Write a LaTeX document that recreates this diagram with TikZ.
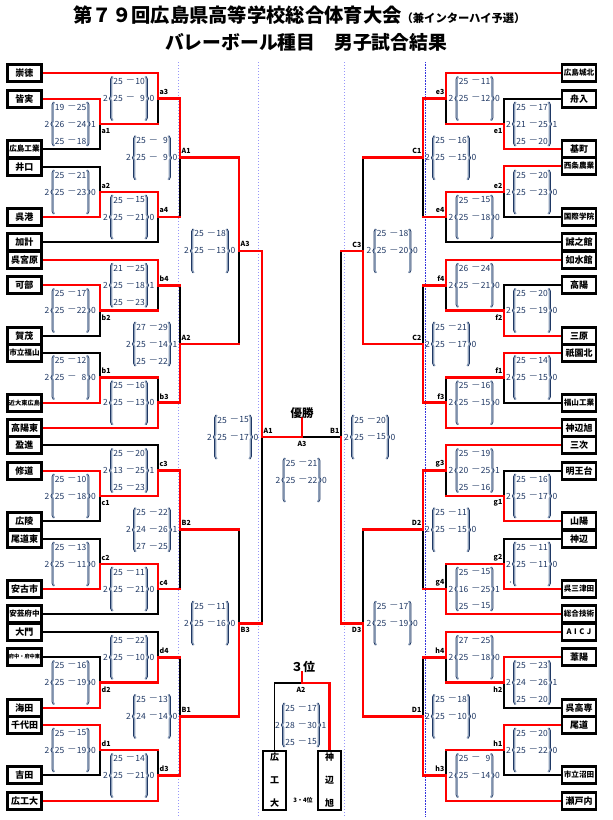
\documentclass[tikz,border=0pt]{standalone}
\usepackage{fontspec}
\newfontfamily\jp{Noto Sans CJK JP}
\usetikzlibrary{decorations.pathreplacing}
\pgfdeclarelayer{bg}
\pgfsetlayers{bg,main}
\definecolor{navy}{RGB}{31,56,100}
\definecolor{bshade}{RGB}{140,158,184}
\definecolor{lav}{RGB}{150,150,250}
\definecolor{dblue}{RGB}{50,50,220}

\newcommand\mtB[5]{\if#4t\draw[bk] (#1 |- #3) -- (#1);\else\draw[bk] (#1 |- #2) -- (#1);\fi}
\newcommand\mtR[5]{\if#4t\draw[rd] (#1 |- #2) -- (#1);\else\draw[rd] (#1 |- #3) -- (#1);\fi\draw[rd] (#1) -- (#1 -| #5);}
\newcommand\tline[3]{\draw[#3] (#1) -- (#1 -| #2);}
\newcommand\allmatches[1]{%
\csname mt#1\endcsname{a1}{tl2}{tl3}{t}{a3}%
\csname mt#1\endcsname{a2}{tl4}{tl5}{b}{a4}%
\csname mt#1\endcsname{a3}{tl1}{a1}{t}{A1}%
\csname mt#1\endcsname{a4}{a2}{tl6}{t}{A1}%
\csname mt#1\endcsname{A1}{a3}{a4}{t}{A3}%
\csname mt#1\endcsname{b2}{tl8}{tl9}{t}{b4}%
\csname mt#1\endcsname{b1}{tl10}{tl11}{b}{b3}%
\csname mt#1\endcsname{b4}{tl7}{b2}{t}{A2}%
\csname mt#1\endcsname{b3}{b1}{tl12}{b}{A2}%
\csname mt#1\endcsname{A2}{b4}{b3}{b}{A3}%
\csname mt#1\endcsname{c1}{tl14}{tl15}{t}{c3}%
\csname mt#1\endcsname{c2}{tl16}{tl17}{b}{c4}%
\csname mt#1\endcsname{c3}{tl13}{c1}{b}{B2}%
\csname mt#1\endcsname{c4}{c2}{tl18}{t}{B2}%
\csname mt#1\endcsname{B2}{c3}{c4}{t}{B3}%
\csname mt#1\endcsname{d2}{tl20}{tl21}{b}{d4}%
\csname mt#1\endcsname{d1}{tl22}{tl23}{t}{d3}%
\csname mt#1\endcsname{d4}{tl19}{d2}{b}{B1}%
\csname mt#1\endcsname{d3}{d1}{tl24}{b}{B1}%
\csname mt#1\endcsname{B1}{d4}{d3}{b}{B3}%
\csname mt#1\endcsname{A3}{A1}{A2}{t}{SL}%
\csname mt#1\endcsname{B3}{B2}{B1}{b}{SL}%
\csname mt#1\endcsname{e1}{tr2}{tr3}{b}{e3}%
\csname mt#1\endcsname{e2}{tr4}{tr5}{t}{e4}%
\csname mt#1\endcsname{e3}{tr1}{e1}{t}{C1}%
\csname mt#1\endcsname{e4}{e2}{tr6}{t}{C1}%
\csname mt#1\endcsname{C1}{e3}{e4}{t}{C3}%
\csname mt#1\endcsname{f2}{tr8}{tr9}{b}{f4}%
\csname mt#1\endcsname{f1}{tr10}{tr11}{t}{f3}%
\csname mt#1\endcsname{f4}{tr7}{f2}{t}{C2}%
\csname mt#1\endcsname{f3}{f1}{tr12}{b}{C2}%
\csname mt#1\endcsname{C2}{f4}{f3}{b}{C3}%
\csname mt#1\endcsname{g1}{tr14}{tr15}{b}{g3}%
\csname mt#1\endcsname{g2}{tr16}{tr17}{b}{g4}%
\csname mt#1\endcsname{g3}{tr13}{g1}{t}{D2}%
\csname mt#1\endcsname{g4}{g2}{tr18}{b}{D2}%
\csname mt#1\endcsname{D2}{g3}{g4}{t}{D3}%
\csname mt#1\endcsname{h2}{tr20}{tr21}{t}{h4}%
\csname mt#1\endcsname{h1}{tr22}{tr23}{t}{h3}%
\csname mt#1\endcsname{h4}{tr19}{h2}{t}{D1}%
\csname mt#1\endcsname{h3}{h1}{tr24}{b}{D1}%
\csname mt#1\endcsname{D1}{h4}{h3}{b}{D3}%
\csname mt#1\endcsname{C3}{C1}{C2}{b}{SR}%
\csname mt#1\endcsname{D3}{D2}{D1}{b}{SR}%
}
\newcommand\scoreblk[6]{%
\begin{scope}[shift={(#2,#3)}]
 \draw[brsh] (-16.2,22) -- (-16.2,-22);
 \draw[brln] (-17.2,22) -- (-17.2,-22);
 \draw[brsh] (16.2,-22) -- (16.2,22);
 \draw[brln] (17.2,-22) -- (17.2,22);
 \node[scn] (#1w) at (-23.5,0) {#4};
 \node[scn] (#1l) at (23,0) {#5};
 \foreach \pa/\pb [count=\ii] in {#6} {
   \node[scn,anchor=east] (#1p\ii) at (-6,{(\ii-2)*17}) {\pa};
   \node[scn] (#1d\ii) at (1.5,{(\ii-2)*17}) {—};
   \node[scn,anchor=east] (#1q\ii) at (16,{(\ii-2)*17}) {\pb};
 }
\end{scope}}

\begin{document}
\begin{tikzpicture}[x=1pt,y=-1pt,
  team/.style={draw=black, line width=2.2pt, fill=white, minimum width=34pt, minimum height=17pt, inner sep=0pt},
  t9/.style={team, font=\jp\bfseries\fontsize{9}{10}\selectfont},
  t8/.style={team, font=\jp\bfseries\fontsize{7.6}{8}\selectfont},
  t6/.style={team, font=\jp\bfseries\fontsize{6.2}{7}\selectfont},
  t5/.style={team, font=\jp\bfseries\fontsize{5.2}{6}\selectfont},
  vbox/.style={draw=black, line width=2.2pt, fill=white, minimum width=23pt, minimum height=59pt, inner sep=0pt, align=center, font=\jp\bfseries\fontsize{9}{23}\selectfont},
  bk/.style={draw=black, line width=1.8pt, line cap=rect},
  rd/.style={draw=red, line width=2.8pt, line cap=rect},
  scn/.style={inner sep=0pt, text=navy, font=\jp\fontsize{8.5}{9}\selectfont},
  lab/.style={inner sep=0pt, font=\jp\bfseries\fontsize{7}{8}\selectfont},
  brln/.style={draw=navy, line width=0.7pt, decorate, decoration={brace, amplitude=2.5pt}},
  brsh/.style={draw=bshade, line width=1.5pt, decorate, decoration={brace, amplitude=2.5pt}},
]
\useasboundingbox (0,0) rectangle (613,820);

% title
\node[inner sep=0pt, font=\jp\bfseries\fontsize{19.3}{20}\selectfont] (title1) at (299.5,15) {第７９回広島県高等学校総合体育大会{\fontsize{11.3}{12}\selectfont （兼インターハイ予選）}};
\node[inner sep=0pt, font=\jp\bfseries\fontsize{18.8}{20}\selectfont] (title2) at (306,42) {バレーボール種目　男子試合結果};

% left teams
\node[t9] (tl1) at (24.5,73) {崇徳};
\node[t9] (tl2) at (24.5,99) {皆実};
\node[t8] (tl3) at (24.5,149) {広島工業};
\node[t9] (tl4) at (24.5,167) {井口};
\node[t9] (tl5) at (24.5,217) {呉港};
\node[t9] (tl6) at (24.5,242) {加計};
\node[t9] (tl7) at (24.5,260) {呉宮原};
\node[t9] (tl8) at (24.5,285) {可部};
\node[t9] (tl9) at (24.5,336) {賀茂};
\node[t8] (tl10) at (24.5,353) {市立福山};
\node[t6] (tl11) at (24.5,403) {近大東広島};
\node[t9] (tl12) at (24.5,428) {高陽東};
\node[t9] (tl13) at (24.5,445) {盈進};
\node[t9] (tl14) at (24.5,471) {修道};
\node[t9] (tl15) at (24.5,521) {広陵};
\node[t9] (tl16) at (24.5,539) {尾道東};
\node[t9] (tl17) at (24.5,589) {安古市};
\node[t8] (tl18) at (24.5,614) {安芸府中};
\node[t9] (tl19) at (24.5,632) {大門};
\node[t5] (tl20) at (24.5,657) {府中・府中東};
\node[t9] (tl21) at (24.5,708) {海田};
\node[t9] (tl22) at (24.5,725) {千代田};
\node[t9] (tl23) at (24.5,775) {吉田};
\node[t9] (tl24) at (24.5,801) {広工大};
% right teams
\node[t8] (tr1) at (579,73) {広島城北};
\node[t9] (tr2) at (579,99) {舟入};
\node[t9] (tr3) at (579,149) {基町};
\node[t8] (tr4) at (579,166) {西条農業};
\node[t8] (tr5) at (579,217) {国際学院};
\node[t9] (tr6) at (579,242) {誠之館};
\node[t9] (tr7) at (579,260) {如水館};
\node[t9] (tr8) at (579,285) {高陽};
\node[t9] (tr9) at (579,336) {三原};
\node[t9] (tr10) at (579,353) {祇園北};
\node[t8] (tr11) at (579,403) {福山工業};
\node[t9] (tr12) at (579,428) {神辺旭};
\node[t9] (tr13) at (579,445) {三次};
\node[t9] (tr14) at (579,471) {明王台};
\node[t9] (tr15) at (579,521) {山陽};
\node[t9] (tr16) at (579,539) {神辺};
\node[t8] (tr17) at (579,589) {呉三津田};
\node[t8] (tr18) at (579,614) {総合技術};
\node[t8] (tr19) at (579,632) {A\hspace{2.5pt}I\hspace{2.5pt}C\hspace{2.5pt}J};
\node[t9] (tr20) at (579,657) {葦陽};
\node[t9] (tr21) at (579,708) {呉高専};
\node[t9] (tr22) at (579,725) {尾道};
\node[t8] (tr23) at (579,775) {市立沼田};
\node[t9] (tr24) at (579,801) {瀬戸内};

% match points
\coordinate (a1) at (100,124);   \coordinate (a2) at (100,192);
\coordinate (a3) at (158,98.5);  \coordinate (a4) at (158,217);
\coordinate (A1) at (180,157.75);
\coordinate (b2) at (100,310.5); \coordinate (b1) at (100,377.5);
\coordinate (b4) at (158,285.25);\coordinate (b3) at (158,402.75);
\coordinate (A2) at (180,344);
\coordinate (c1) at (100,496);   \coordinate (c2) at (100,564);
\coordinate (c3) at (158,470.5); \coordinate (c4) at (158,589);
\coordinate (B2) at (180,529.75);
\coordinate (d2) at (100,682.5); \coordinate (d1) at (100,750);
\coordinate (d4) at (158,657.25);\coordinate (d3) at (158,775.5);
\coordinate (B1) at (180,716.4);
\coordinate (A3) at (239,250.9); \coordinate (B3) at (239,623.1);
\coordinate (SL) at (262,437);
\coordinate (e1) at (504,124);   \coordinate (e2) at (504,192);
\coordinate (e3) at (446,98.5);  \coordinate (e4) at (446,217);
\coordinate (C1) at (423,157.75);
\coordinate (f2) at (504,310.5); \coordinate (f1) at (504,377.5);
\coordinate (f4) at (446,285.25);\coordinate (f3) at (446,402.75);
\coordinate (C2) at (423,344);
\coordinate (g1) at (504,496);   \coordinate (g2) at (504,564);
\coordinate (g3) at (446,470.5); \coordinate (g4) at (446,589);
\coordinate (D2) at (423,529.75);
\coordinate (h2) at (504,682.5); \coordinate (h1) at (504,750);
\coordinate (h4) at (446,657.25);\coordinate (h3) at (446,775.5);
\coordinate (D1) at (423,716.4);
\coordinate (C3) at (363,250.9); \coordinate (D3) at (363,623.1);
\coordinate (SR) at (341,437);
\coordinate (FC) at (302,437);
\coordinate (T3) at (302,683);

% centre texts
\node[inner sep=0pt, font=\jp\bfseries\fontsize{11.5}{12}\selectfont] (win) at (302,413) {優勝};
\node[inner sep=0pt, font=\jp\bfseries\fontsize{12}{12}\selectfont] (third) at (303,667) {３位};
\node[vbox] (k1) at (274.5,780.5) {広\\工\\大};
\node[vbox] (k2) at (329.5,780.5) {神\\辺\\旭};
\node[inner sep=0pt, font=\jp\bfseries\fontsize{6}{6}\selectfont] (t34) at (303,800) {3・4位};

\begin{pgfonlayer}{bg}
\fill[white] (0,0) rectangle (613,820);
\draw[lav, line width=1pt, dotted] (178,62) -- (178,817);
\draw[lav, line width=1pt, dotted] (258,62) -- (258,817);
\draw[lav, line width=1pt, dotted] (344,62) -- (344,817);
\draw[dblue, line width=0.6pt, densely dotted] (425,62) -- (425,817);
% black pass
\tline{tl3}{a1}{bk}\tline{tl4}{a2}{bk}\tline{tl6}{a4}{bk}\tline{tl9}{b2}{bk}
\tline{tl10}{b1}{bk}\tline{tl13}{c3}{bk}\tline{tl15}{c1}{bk}\tline{tl16}{c2}{bk}
\tline{tl18}{c4}{bk}\tline{tl19}{d4}{bk}\tline{tl20}{d2}{bk}\tline{tl23}{d1}{bk}
\tline{tr2}{e1}{bk}\tline{tr5}{e2}{bk}\tline{tr6}{e4}{bk}\tline{tr8}{f2}{bk}
\tline{tr11}{f1}{bk}\tline{tr14}{g1}{bk}\tline{tr16}{g2}{bk}\tline{tr21}{h2}{bk}
\tline{tr23}{h1}{bk}
\allmatches{B}
\draw[bk] (SL |- B3) -- (SL);
\draw[bk] (SR |- C3) -- (SR);
\draw[bk] (SR) -- (FC);
\draw[bk] (k1.north) |- (T3);
% red pass
\tline{tl1}{a3}{rd}\tline{tl2}{a1}{rd}\tline{tl5}{a2}{rd}\tline{tl7}{b4}{rd}
\tline{tl8}{b2}{rd}\tline{tl11}{b1}{rd}\tline{tl12}{b3}{rd}\tline{tl14}{c1}{rd}
\tline{tl17}{c2}{rd}\tline{tl21}{d2}{rd}\tline{tl22}{d1}{rd}\tline{tl24}{d3}{rd}
\tline{tr1}{e3}{rd}\tline{tr3}{e1}{rd}\tline{tr4}{e2}{rd}\tline{tr7}{f4}{rd}
\tline{tr9}{f2}{rd}\tline{tr10}{f1}{rd}\tline{tr12}{f3}{rd}\tline{tr13}{g3}{rd}
\tline{tr15}{g1}{rd}\tline{tr17}{g2}{rd}\tline{tr18}{g4}{rd}\tline{tr19}{h4}{rd}
\tline{tr20}{h2}{rd}\tline{tr22}{h1}{rd}\tline{tr24}{h3}{rd}
\allmatches{R}
\draw[rd] (SL |- A3) -- (SL);
\draw[rd] (SR |- D3) -- (SR);
\draw[rd] (SL) -- (FC);
\draw[rd] (FC) -- (FC |- win.south);
\draw[rd] (k2.north) |- (T3);
\draw[rd] (T3) -- (T3 |- third.south);
\end{pgfonlayer}

% labels
\node[lab,anchor=west] (la1) at (101.5,131) {a1};
\node[lab,anchor=west] (la2) at (101.5,185.5) {a2};
\node[lab,anchor=west] (la3) at (159.5,92) {a3};
\node[lab,anchor=west] (la4) at (159.5,210.5) {a4};
\node[lab,anchor=west] (lA1) at (181.5,151.3) {A1};
\node[lab,anchor=west] (lb2) at (101.5,317.5) {b2};
\node[lab,anchor=west] (lb1) at (101.5,371) {b1};
\node[lab,anchor=west] (lb4) at (159.5,278.8) {b4};
\node[lab,anchor=west] (lb3) at (159.5,396.3) {b3};
\node[lab,anchor=west] (lA2) at (181.5,337.5) {A2};
\node[lab,anchor=west] (lc1) at (101.5,503) {c1};
\node[lab,anchor=west] (lc2) at (101.5,557.5) {c2};
\node[lab,anchor=west] (lc3) at (159.5,464) {c3};
\node[lab,anchor=west] (lc4) at (159.5,582.5) {c4};
\node[lab,anchor=west] (lB2) at (181.5,523.3) {B2};
\node[lab,anchor=west] (ld2) at (101.5,689.5) {d2};
\node[lab,anchor=west] (ld1) at (101.5,743.5) {d1};
\node[lab,anchor=west] (ld4) at (159.5,650.8) {d4};
\node[lab,anchor=west] (ld3) at (159.5,769) {d3};
\node[lab,anchor=west] (lB1) at (181.5,709.9) {B1};
\node[lab,anchor=west] (lA3) at (240.5,244.4) {A3};
\node[lab,anchor=west] (lB3) at (240.5,630.1) {B3};
\node[lab,anchor=west] (lSL) at (263.5,430.5) {A1};
\node[lab,anchor=east] (le1) at (502.5,131) {e1};
\node[lab,anchor=east] (le2) at (502.5,185.5) {e2};
\node[lab,anchor=east] (le3) at (444.5,92) {e3};
\node[lab,anchor=east] (le4) at (444.5,210.5) {e4};
\node[lab,anchor=east] (lC1) at (421.5,151.3) {C1};
\node[lab,anchor=east] (lf2) at (502.5,317.5) {f2};
\node[lab,anchor=east] (lf1) at (502.5,371) {f1};
\node[lab,anchor=east] (lf4) at (444.5,278.8) {f4};
\node[lab,anchor=east] (lf3) at (444.5,396.3) {f3};
\node[lab,anchor=east] (lC2) at (421.5,337.5) {C2};
\node[lab,anchor=east] (lg1) at (502.5,503) {g1};
\node[lab,anchor=east] (lg2) at (502.5,557.5) {g2};
\node[lab,anchor=east] (lg3) at (444.5,464) {g3};
\node[lab,anchor=east] (lg4) at (444.5,582.5) {g4};
\node[lab,anchor=east] (lD2) at (421.5,523.3) {D2};
\node[lab,anchor=east] (lh2) at (502.5,689.5) {h2};
\node[lab,anchor=east] (lh1) at (502.5,743.5) {h1};
\node[lab,anchor=east] (lh4) at (444.5,650.8) {h4};
\node[lab,anchor=east] (lh3) at (444.5,769) {h3};
\node[lab,anchor=east] (lD1) at (421.5,709.9) {D1};
\node[lab,anchor=east] (lC3) at (361.5,244.4) {C3};
\node[lab,anchor=east] (lD3) at (361.5,630.1) {D3};
\node[lab,anchor=east] (lSR) at (339.5,430.5) {B1};
\node[lab] (lF) at (302,444) {A3};
\node[lab] (lT) at (301,689.5) {A2};

% scores
\scoreblk{sa1}{70.5}{124}{2}{1}{19/25,26/24,25/18}
\scoreblk{sa2}{70.5}{192}{2}{0}{25/21,25/23}
\scoreblk{sa3}{129}{98.5}{2}{0}{25/10,25/9}
\scoreblk{sa4}{129}{217}{2}{0}{25/15,25/21}
\scoreblk{sA1}{152}{157.75}{2}{0}{25/9,25/9}
\scoreblk{sb2}{70.5}{310.5}{2}{0}{25/17,25/22}
\scoreblk{sb1}{70.5}{377.5}{2}{0}{25/12,25/8}
\scoreblk{sb4}{129}{285.25}{2}{1}{21/25,25/18,25/23}
\scoreblk{sb3}{129}{402.75}{2}{0}{25/16,25/13}
\scoreblk{sA2}{152}{344}{2}{1}{27/29,25/14,25/22}
\scoreblk{sA3}{210}{250.9}{2}{0}{25/18,25/13}
\scoreblk{sc1}{70.5}{496}{2}{0}{25/10,25/18}
\scoreblk{sc2}{70.5}{564}{2}{0}{25/13,25/11}
\scoreblk{sc3}{129}{470.5}{2}{1}{25/20,13/25,25/23}
\scoreblk{sc4}{129}{589}{2}{0}{25/11,25/21}
\scoreblk{sB2}{152}{529.75}{2}{1}{25/22,24/26,27/25}
\scoreblk{sd2}{70.5}{682.5}{2}{0}{25/16,25/19}
\scoreblk{sd1}{70.5}{750}{2}{0}{25/15,25/19}
\scoreblk{sd4}{129}{657.25}{2}{0}{25/22,25/10}
\scoreblk{sd3}{129}{775.5}{2}{0}{25/14,25/21}
\scoreblk{sB1}{152}{716.4}{2}{0}{25/13,24/14}
\scoreblk{sB3}{210}{623.1}{2}{0}{25/11,25/16}
\scoreblk{sSL}{233}{437}{2}{0}{25/15,25/17}
\scoreblk{sF}{301.5}{480}{2}{0}{25/21,25/22}
\scoreblk{sSR}{370}{437}{2}{0}{25/20,25/15}
\scoreblk{sC3}{392.5}{250.9}{2}{0}{25/18,25/20}
\scoreblk{sD3}{392.5}{623.1}{2}{0}{25/17,25/19}
\scoreblk{se1}{532}{124}{2}{1}{25/17,21/25,25/20}
\scoreblk{se2}{532}{192}{2}{0}{25/20,25/23}
\scoreblk{se3}{474.5}{98.5}{2}{0}{25/11,25/12}
\scoreblk{se4}{474.5}{217}{2}{0}{25/15,25/18}
\scoreblk{sC1}{451}{157.75}{2}{0}{25/16,25/15}
\scoreblk{sf2}{532}{310.5}{2}{0}{25/20,25/19}
\scoreblk{sf1}{532}{377.5}{2}{0}{25/14,25/15}
\scoreblk{sf4}{474.5}{285.25}{2}{0}{26/24,25/21}
\scoreblk{sf3}{474.5}{402.75}{2}{0}{25/16,25/15}
\scoreblk{sC2}{451}{344}{2}{0}{25/21,25/17}
\scoreblk{sg1}{532}{496}{2}{0}{25/16,25/17}
\scoreblk{sg2}{532}{564}{2}{0}{25/11,25/11}
\scoreblk{sg3}{474.5}{470.5}{2}{1}{25/19,20/25,25/16}
\scoreblk{sg4}{474.5}{589}{2}{1}{25/15,16/25,25/15}
\scoreblk{sD2}{451}{529.75}{2}{0}{25/11,25/15}
\scoreblk{sh2}{532}{682.5}{2}{1}{25/23,24/26,25/20}
\scoreblk{sh1}{532}{750}{2}{0}{25/20,25/22}
\scoreblk{sh4}{474.5}{657.25}{2}{0}{27/25,25/18}
\scoreblk{sh3}{474.5}{775.5}{2}{0}{25/9,25/14}
\scoreblk{sD1}{451}{716.4}{2}{0}{25/18,25/10}
\scoreblk{stp}{301}{725}{2}{1}{25/17,28/30,25/15}
\fill[navy] (510.5,582) circle (0.6);
\end{tikzpicture}
\end{document}
